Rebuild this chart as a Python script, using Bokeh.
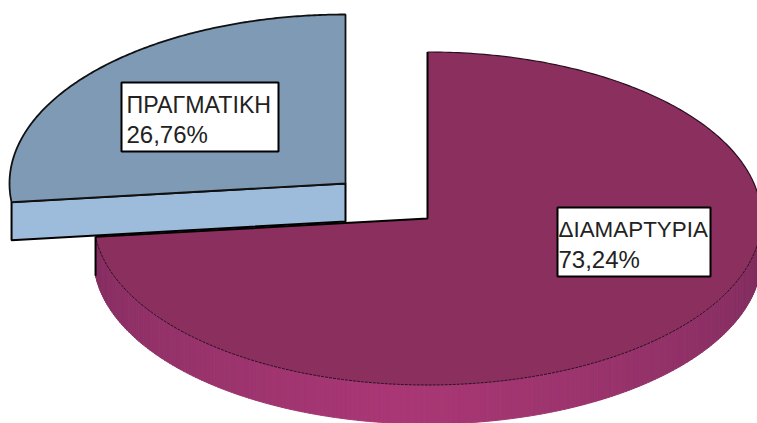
import numpy as np
from bokeh.plotting import figure
from bokeh.models import Range1d
from bokeh.core.properties import value
from bokeh.embed import file_html
from bokeh.resources import INLINE

# data
categories = ["ΔΙΑΜΑΡΤΥΡΙΑ", "ΠΡΑΓΜΑΤΙΚΗ"]
shares = [73.24, 26.76]

# style / geometry (image pixels)
centers = [(427, 218), (345, 183)]
radii = [(334, 166.5), (336, 169)]
depths = [39, 38]
top_colors = ["#8A2F5E", "#7F9AB5"]
wall_light = np.array([0xAA, 0x38, 0x76])
wall_dark = np.array([0x78, 0x2B, 0x5A])
blue_wall = "#9DBBDA"
boxes = [(557, 710, 207, 276), (121, 278, 82, 151)]
text_pad = [1, 5]
name_sizes = ["22.4px", "23.2px"]
pct_size = "24px"

p = figure(width=757, height=423, x_range=Range1d(0, 757), y_range=Range1d(423, 0),
           output_backend="svg", toolbar_location=None, min_border=0,
           outline_line_color=None, background_fill_color="white", border_fill_color="white")
p.axis.visible = False
p.grid.visible = False


def rim(c, r, a0, a1, n=160):
    t = np.radians(np.linspace(a0, a1, n))
    return c[0] + r[0] * np.sin(t), c[1] - r[1] * np.cos(t)


# slice angles, clockwise from 12 o'clock
a_end = shares[0] / 100 * 360

# --- big slice ---
c, r, d = centers[0], radii[0], depths[0]
# outer wall, drawn as many narrow shaded strips
edges = np.linspace(90, a_end, 241)
for a, b in zip(edges[:-1], edges[1:]):
    m = (a + b) / 2
    k = max(0.0, 1 - abs(m - 185) / 95) ** 0.8
    col = (wall_dark + (wall_light - wall_dark) * k).astype(int)
    hexcol = "#%02x%02x%02x" % tuple(col)
    xa, ya = rim(c, r, a, b, 3)
    p.patch(list(xa) + list(xa[::-1]), list(ya) + list((ya + d)[::-1]),
            fill_color=hexcol, line_color=hexcol, line_width=1)

xr, yr = rim(c, r, 0, a_end, 300)
p.patch([c[0], *xr], [c[1], *yr], fill_color=top_colors[0], line_color=None)
# upper rim solid, lower rim dashed
xu, yu = rim(c, r, 0, 90, 120)
p.line(xu, yu, line_color="#2a0f20", line_width=1.2)
xl, yl = rim(c, r, 90, a_end, 200)
p.line(xl, yl, line_color="#2a0f20", line_width=1, line_dash="3 1")
# cut edges
p.line([xr[-1], c[0], c[0]], [yr[-1], c[1], c[1] - r[1]], line_color="black", line_width=2)
p.line([xr[-1], xr[-1]], [yr[-1], yr[-1] + d], line_color="black", line_width=2)

# --- exploded slice ---
c, r, d = centers[1], radii[1], depths[1]
xb, yb = rim(c, r, a_end, 360, 200)
wx = [xb[0], c[0], c[0], xb[0]]
wy = [yb[0], c[1], c[1] + d, yb[0] + d]
p.patch(wx, wy, fill_color=blue_wall, line_color="black", line_width=2)
p.patch([c[0], *xb], [c[1], *yb], fill_color=top_colors[1], line_color="#111111", line_width=1.8)

# --- labels ---
for name, share, (x0, x1, y0, y1), pad, size in zip(categories, shares, boxes, text_pad, name_sizes):
    p.quad(left=[x0], right=[x1], top=[y0], bottom=[y1], fill_color="white",
           line_color="black", line_width=2)
    pct = f"{share:.2f}".replace(".", ",") + "%"
    p.text([x0 + pad], [y0 + 22], text=[name], text_font=value("Liberation Sans"),
           text_font_size=size, text_color="#222222", text_baseline="alphabetic")
    p.text([x0 + pad], [y0 + 52], text=[pct], text_font=value("Liberation Sans"),
           text_font_size=pct_size, text_color="#222222", text_baseline="alphabetic")

open("out.html", "w").write(file_html(p, INLINE))
